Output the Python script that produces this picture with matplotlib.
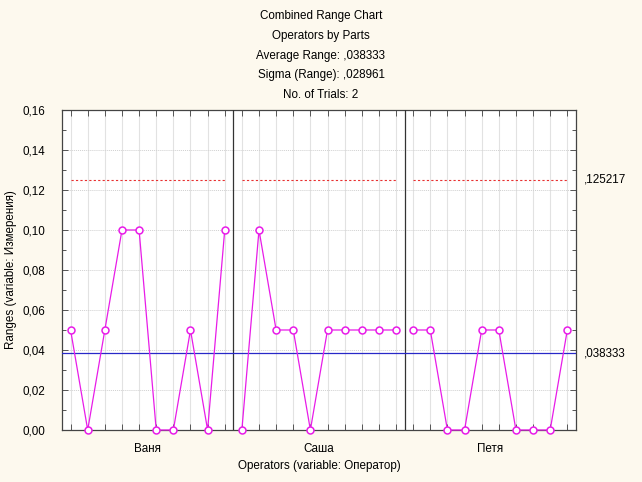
import numpy as np
import matplotlib.pyplot as plt
from matplotlib.ticker import FixedLocator, MultipleLocator, FuncFormatter

plt.rcParams['font.family'] = ['Liberation Sans', 'DejaVu Sans']

# data
operators = ["Ваня", "Саша", "Петя"]
ranges_vanya = [0.05, 0.00, 0.05, 0.10, 0.10, 0.00, 0.00, 0.05, 0.00, 0.10]
ranges_sasha = [0.00, 0.10, 0.05, 0.05, 0.00, 0.05, 0.05, 0.05, 0.05, 0.05]
ranges_petya = [0.05, 0.05, 0.00, 0.00, 0.05, 0.05, 0.00, 0.00, 0.00, 0.05]
avg_range = 0.038333
ucl = 0.125217
title_lines = ["Combined Range Chart", "Operators by Parts",
               "Average Range: ,038333", "Sigma (Range): ,028961",
               "No. of Trials: 2"]

bg = '#FDF9EE'
magenta = '#E81CE8'
fs = 8.4

fig = plt.figure(figsize=(6.42, 4.82), dpi=100, facecolor=bg)
ax = fig.add_axes([0.0966, 0.1079, 0.8004, 0.6639])
ax.set_facecolor('white')

groups = [ranges_vanya, ranges_sasha, ranges_petya]
n = len(ranges_vanya)
all_x = []
for g, vals in enumerate(groups):
    x = np.arange(n) + 0.5 + g * n
    all_x.extend(x)
    ax.plot(x, vals, color=magenta, lw=0.9, marker='o', ms=5,
            mfc='white', mec=magenta, mew=1.1, zorder=4, clip_on=False)
    ax.hlines(ucl, x[0], x[-1], colors='#E83030', linestyles=(0, (2, 2)),
              lw=0.8, zorder=3)
    if g > 0:
        ax.axvline(g * n, color='#333333', lw=0.9, zorder=3)

ax.axhline(avg_range, color='#2828C8', lw=0.9, zorder=3)

ax.set_xlim(0, n * len(groups))
ax.set_ylim(0, 0.16)

# grid: light vertical lines at each part, dotted horizontals
for xv in all_x:
    ax.axvline(xv, color='#E2E2E2', lw=0.8, zorder=1)
for yv in np.arange(0.02, 0.16, 0.02):
    ax.axhline(yv, color='#D0D0D0', lw=0.7, ls=(0, (1, 1)), zorder=1)

ax.xaxis.set_major_locator(FixedLocator(all_x))
ax.set_xticklabels([])
ax.yaxis.set_major_locator(MultipleLocator(0.02))
ax.yaxis.set_minor_locator(MultipleLocator(0.01))
ax.yaxis.set_major_formatter(FuncFormatter(lambda v, p: f"{v:.2f}".replace('.', ',')))
ax.tick_params(axis='both', which='both', direction='in', top=True, right=True,
               color='#555555', labelsize=fs)
ax.tick_params(axis='both', which='major', length=4, width=0.7)
ax.tick_params(axis='y', which='minor', length=3, width=0.7)
ax.tick_params(axis='y', pad=12)
for s in ax.spines.values():
    s.set_color('#444444')
    s.set_linewidth(0.9)

for g, name in enumerate(operators):
    ax.text(g * n + n / 2, -0.0093, name, ha='center', va='center', fontsize=fs)

ax.set_xlabel("Operators (variable: Оператор)", fontsize=fs, labelpad=18)
ax.set_ylabel("Ranges (variable: Измерения)", fontsize=fs, labelpad=4)

ax.text(1.016, ucl, ",125217", transform=ax.get_yaxis_transform(),
        ha='left', va='center', fontsize=fs)
ax.text(1.016, avg_range, ",038333", transform=ax.get_yaxis_transform(),
        ha='left', va='center', fontsize=fs)

for i, line in enumerate(title_lines):
    fig.text(0.5, 1 - (16.5 + i * 19.6) / 482, line, ha='center', va='center',
             fontsize=fs)

fig.savefig('out.png', dpi=100, facecolor=bg)
